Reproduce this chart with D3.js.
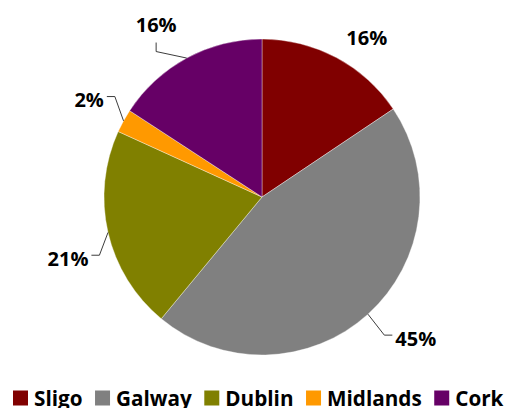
<!DOCTYPE html>
<html>
<head>
<meta charset="utf-8">
<script src="https://cdn.jsdelivr.net/npm/d3@7"></script>
<style>
  html, body { margin: 0; padding: 0; background: #fff; }
  svg { display: block; }
  text { font-family: "Open Sans", Lato, "DejaVu Sans", sans-serif; font-weight: 700; fill: #000; }
</style>
</head>
<body>
<svg id="chart" width="511" height="408"></svg>
<script>
/* pie of share by region, excel-ish look: outside labels + leader lines, legend along the bottom */
var REGIONS = ['Sligo', 'Galway', 'Dublin', 'Midlands', 'Cork'];
var SHARES = [15.6, 45.4, 20.8, 2.4, 15.8];
var COLORS = ['#800000', '#808080', '#808000', '#ff9900', '#660066'];

(function () {
  var CX = 262, CY = 197, R = 158, LR = 195, FS = 20, LFS = 20.7;
  // label nudges from the centroid on LR, and leader style (excel "best fit")
  var NUDGE = [[13, 12.5], [23, -3], [-4, 18], [-2, -3], [-13, -1]];
  var LEADER = ['none', 'h', 'h', 'h', 'v'];

  var svg = d3.select('#chart');
  var data = REGIONS.map(function (n, i) { return { name: n, value: SHARES[i], color: COLORS[i], i: i }; });
  var total = d3.sum(SHARES);
  var pct = d3.format('.0%');

  var pie = d3.pie().value(function (d) { return d.value; }).sort(null);
  var arc = d3.arc().innerRadius(0).outerRadius(R);
  var arcs = pie(data);

  var g = svg.append('g').attr('transform', 'translate(' + CX + ',' + CY + ')');
  g.selectAll('path.slice').data(arcs).enter().append('path')
    .attr('class', 'slice')
    .attr('d', arc)
    .attr('fill', function (d) { return d.data.color; })
    .attr('stroke', '#fff').attr('stroke-opacity', 0.6).attr('stroke-width', 0.6);

  function onCircle(a, r) { return [Math.sin(a) * r, -Math.cos(a) * r]; }

  var gLead = g.append('g'), gLab = g.append('g');
  arcs.forEach(function (d, i) {
    var mid = (d.startAngle + d.endAngle) / 2;
    var c = onCircle(mid, LR);
    var lx = c[0] + NUDGE[i][0], ly = c[1] + NUDGE[i][1];
    var t = gLab.append('text').attr('x', lx).attr('y', ly).attr('dy', '.36em')
      .attr('text-anchor', 'middle').attr('font-size', FS)
      .text(pct(d.data.value / total));
    var bb = t.node().getBBox();
    if (LEADER[i] === 'none') return;
    var p0 = onCircle(mid, R), pts;
    if (LEADER[i] === 'v') {
      var ey = ly + 18;
      pts = [p0, [lx, ey + 9], [lx, ey]];
    } else {
      var right = lx > 0;
      var ex = right ? bb.x - 3 : bb.x + bb.width + 3;
      var yy = ly - 3.5;
      pts = [p0, [right ? ex - 8 : ex + 8, yy], [ex, yy]];
    }
    gLead.append('path').attr('d', d3.line()(pts))
      .attr('fill', 'none').attr('stroke', '#262626').attr('stroke-width', 0.9);
  });

  // legend
  var gL = svg.append('g').attr('transform', 'translate(13,390.5)');
  var x = 0;
  data.forEach(function (d) {
    var it = gL.append('g').attr('transform', 'translate(' + x + ',0)');
    it.append('rect').attr('width', 15).attr('height', 15).attr('fill', d.color);
    var tx = it.append('text').attr('x', 21).attr('y', 15.5).attr('font-size', LFS).text(d.name);
    x += 21 + tx.node().getComputedTextLength() + 12.5;
  });
})();
</script>
</body>
</html>
